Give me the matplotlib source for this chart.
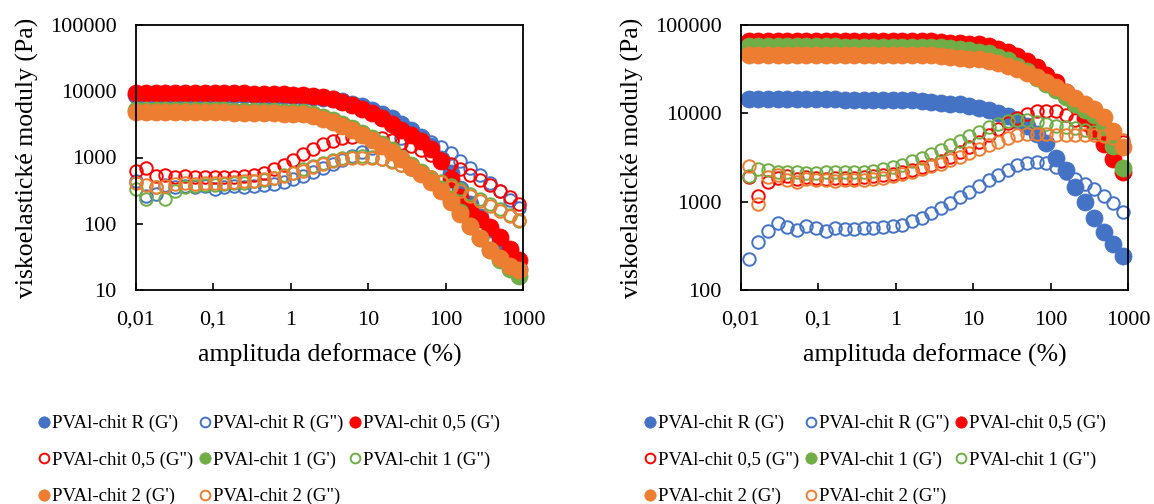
import matplotlib
matplotlib.use("Agg")
import matplotlib.pyplot as plt
from matplotlib.ticker import FixedLocator, FixedFormatter, NullLocator

plt.rcParams['font.family'] = ['Liberation Serif', 'DejaVu Serif']

# strain amplitude (%) of the two sweeps
strain_a = [0.0100, 0.0134, 0.0180, 0.0240, 0.0323, 0.0432, 0.0579, 0.0776, 0.104, 0.139,
            0.186, 0.250, 0.335, 0.448, 0.601, 0.805, 1.08, 1.44, 1.93, 2.59,
            3.47, 4.65, 6.23, 8.34, 11.2, 15.0, 20.1, 26.9, 36.0, 48.2,
            64.6, 86.5, 116, 155, 208, 279, 373, 500, 670, 897]
strain_b = [0.0126, 0.0168, 0.0223, 0.0297, 0.0395, 0.0525, 0.0698, 0.0929, 0.124, 0.164,
            0.219, 0.291, 0.387, 0.515, 0.686, 0.912, 1.21, 1.61, 2.15, 2.86,
            3.80, 5.06, 6.73, 8.95, 11.9, 15.8, 21.1, 28.1, 37.3, 49.7,
            66.1, 87.9, 117, 156, 207, 275, 366, 488, 649, 863]

sample_names = ["PVAl-chit R", "PVAl-chit 0,5", "PVAl-chit 1", "PVAl-chit 2"]
sample_colors = ["#4472C4", "#FF0000", "#70AD47", "#ED7D31"]

# panel A: storage modulus G' (Pa)
a_gp_R = [8700, 8700, 8700, 8700, 8700, 8700, 8700, 8700, 8700, 8700,
          8700, 8700, 8700, 8600, 8600, 8600, 8510, 8320, 8130, 7940,
          7590, 7080, 6460, 5890, 5250, 4570, 3890, 3240, 2630, 2040,
          1480, 955, 575, 331, 200, 126, 83, 55, 35, 21]
a_gp_05 = [9550, 9550, 9550, 9550, 9550, 9440, 9440, 9440, 9330, 9330,
           9330, 9330, 9230, 9230, 9120, 9120, 8910, 8710, 8510, 8130,
           7590, 6920, 6170, 5370, 4680, 3980, 3240, 2570, 2190, 1780,
           1350, 891, 479, 251, 166, 120, 89, 63, 42, 28]
a_gp_1 = [5130, 5130, 5130, 5130, 5130, 5130, 5130, 5130, 5130, 5130,
          5010, 5010, 5010, 5010, 5010, 4900, 4900, 4790, 4470, 4070,
          3630, 3160, 2750, 2340, 1950, 1580, 1290, 1000, 776, 603,
          457, 331, 229, 148, 93, 62, 40, 28, 21, 16]
a_gp_2 = [4790, 4790, 4790, 4790, 4790, 4790, 4790, 4790, 4790, 4790,
          4680, 4680, 4680, 4680, 4680, 4570, 4570, 4470, 4170, 3800,
          3390, 2950, 2570, 2190, 1820, 1480, 1200, 933, 724, 562,
          427, 309, 214, 141, 91, 60, 40, 30, 23, 20]
# panel A: loss modulus G'' (Pa)
a_gpp_R = [447, 263, 282, 380, 355, 372, 355, 372, 339, 363,
           372, 363, 372, 380, 398, 427, 468, 525, 603, 692,
           794, 912, 1050, 1200, 1380, 1580, 1820, 2000, 2090, 2000,
           1740, 1450, 1150, 891, 692, 537, 407, 309, 229, 170]
a_gpp_05 = [617, 692, 525, 550, 513, 525, 501, 513, 513, 501,
            513, 525, 550, 589, 661, 759, 912, 1120, 1350, 1580,
            1780, 1950, 2040, 2090, 2040, 1950, 1820, 1660, 1480, 1290,
            1100, 933, 794, 661, 550, 457, 380, 309, 251, 200]
a_gpp_1 = [331, 240, 355, 240, 316, 355, 372, 380, 380, 398,
           407, 417, 437, 457, 490, 537, 589, 661, 741, 832,
           912, 977, 1020, 1050, 1020, 955, 871, 776, 676, 589,
           513, 447, 380, 331, 282, 240, 200, 166, 135, 110]
a_gpp_2 = [417, 380, 363, 372, 398, 417, 398, 407, 417, 417,
           427, 437, 447, 468, 490, 525, 575, 631, 708, 794,
           871, 933, 977, 1000, 977, 933, 851, 759, 661, 575,
           501, 427, 363, 309, 263, 224, 186, 155, 132, 115]

# panel B: storage modulus G' (Pa)
b_gp_R = [14500, 14500, 14500, 14500, 14500, 14500, 14500, 14500, 14500, 14500,
          14300, 14300, 14300, 14300, 14300, 14300, 14100, 14100, 13800, 13500,
          13200, 12900, 12600, 12000, 11500, 11000, 10200, 9330, 8320, 7240,
          5890, 4570, 3160, 2290, 1450, 1000, 661, 457, 331, 240]
b_gp_05 = [66000, 66000, 66000, 66000, 66000, 66000, 66000, 66000, 66000, 66000,
           65300, 65300, 65300, 65300, 65300, 65300, 65300, 65300, 65300, 65300,
           64600, 63100, 63100, 61700, 60300, 57500, 53700, 50100, 44700, 38900,
           33100, 27500, 22400, 17400, 12600, 8910, 6310, 4470, 3020, 2140]
b_gp_1 = [57500, 57500, 57500, 57500, 57500, 57500, 57500, 57500, 57500, 57500,
          56900, 56900, 56900, 56900, 56900, 56900, 56900, 56900, 56900, 56900,
          56200, 55000, 53700, 52500, 50100, 47900, 43700, 39800, 34700, 30200,
          25100, 21400, 18200, 15500, 12600, 11000, 9550, 7080, 4270, 2400]
b_gp_2 = [45700, 45700, 45700, 45700, 45700, 45700, 45700, 45700, 45700, 45700,
          45200, 45200, 45200, 45200, 45200, 45200, 45200, 45200, 45200, 45200,
          44700, 43700, 42700, 41700, 40700, 38900, 37200, 34700, 31600, 28800,
          25700, 22900, 20000, 17400, 14800, 12900, 11200, 9120, 6310, 4170]
# panel B: loss modulus G'' (Pa)
b_gpp_R = [224, 347, 468, 575, 513, 479, 525, 501, 468, 501,
           490, 490, 501, 501, 513, 525, 550, 603, 661, 741,
           851, 977, 1120, 1290, 1510, 1740, 2000, 2290, 2570, 2750,
           2820, 2750, 2450, 2090, 1820, 1580, 1380, 1170, 955, 759]
b_gpp_05 = [1910, 1150, 1660, 1860, 1950, 1820, 1910, 1860, 1820, 1860,
            1860, 1860, 1910, 1950, 2000, 2040, 2140, 2290, 2450, 2630,
            2880, 3240, 3630, 4170, 4790, 5620, 6610, 7760, 8910, 9770,
            10500, 10700, 10500, 9550, 8510, 7590, 6760, 6030, 5370, 4790]
b_gpp_1 = [1950, 2340, 2290, 2190, 2140, 2140, 2090, 2090, 2140, 2140,
           2140, 2190, 2190, 2240, 2340, 2450, 2630, 2880, 3160, 3470,
           3890, 4370, 4900, 5500, 6170, 6920, 7590, 8130, 8320, 8320,
           7940, 7590, 7240, 6920, 6760, 6460, 6170, 5750, 5010, 4170]
b_gpp_2 = [2510, 933, 1910, 2000, 1780, 1660, 1820, 1740, 1740, 1700,
           1780, 1740, 1780, 1820, 1860, 1950, 2040, 2190, 2340, 2510,
           2690, 2950, 3240, 3550, 3980, 4370, 4790, 5250, 5620, 5890,
           5890, 5890, 5750, 5750, 5750, 5620, 5620, 5500, 5250, 5010]

x_ticks = [0.01, 0.1, 1, 10, 100, 1000]
x_tick_labels = ["0,01", "0,1", "1", "10", "100", "1000"]
a_y_ticks = [10, 100, 1000, 10000, 100000]
b_y_ticks = [100, 1000, 10000, 100000]

fig = plt.figure(figsize=(11.54, 5.04), dpi=100)
W, H = 1154.0, 504.0


def draw_panel(rect, strain, storage, loss, y_ticks, legend_xy):
    ax = fig.add_axes(rect)
    ax.set_xscale('log')
    ax.set_yscale('log')
    handles = []
    for name, col, gp, gpp in zip(sample_names, sample_colors, storage, loss):
        h1, = ax.plot(strain, gp, linestyle='none', marker='o', markersize=12.3,
                      markerfacecolor=col, markeredgecolor=col, markeredgewidth=0.5,
                      label=name + " (G')", clip_on=False)
        h2, = ax.plot(strain, gpp, linestyle='none', marker='o', markersize=9.0,
                      markerfacecolor='none', markeredgecolor=col, markeredgewidth=1.4,
                      label=name + ' (G")', clip_on=False)
        handles += [h1, h2]
    ax.set_xlim(0.01, 1000)
    ax.set_ylim(y_ticks[0], y_ticks[-1])
    ax.xaxis.set_major_locator(FixedLocator(x_ticks))
    ax.xaxis.set_major_formatter(FixedFormatter(x_tick_labels))
    ax.yaxis.set_major_locator(FixedLocator(y_ticks))
    ax.yaxis.set_major_formatter(FixedFormatter([str(v) for v in y_ticks]))
    ax.xaxis.set_minor_locator(NullLocator())
    ax.yaxis.set_minor_locator(NullLocator())
    ax.tick_params(direction='in', length=5, width=1.2, labelsize=16, colors='black')
    ax.tick_params(axis='x', pad=15)
    ax.tick_params(axis='y', pad=14)
    for sp in ax.spines.values():
        sp.set_linewidth(1.3)
        sp.set_color('black')
    ax.set_xlabel("amplituda deformace (%)", fontsize=18.5, labelpad=10)
    ax.set_ylabel("viskoelastické moduly (Pa)", fontsize=18.5, labelpad=8)
    # legend laid out row by row: three entries per row
    order = [0, 3, 6, 1, 4, 7, 2, 5]
    leg = fig.legend([handles[i] for i in order], [handles[i].get_label() for i in order],
                     loc='upper left', bbox_to_anchor=legend_xy, ncol=3, frameon=False,
                     fontsize=13.5, handlelength=0.6, handletextpad=0.15,
                     columnspacing=0.3, labelspacing=1.02, borderpad=0, borderaxespad=0)
    for lh in leg.legend_handles:
        if lh.get_markerfacecolor() == 'none':
            lh.set_markersize(7.0)
        else:
            lh.set_markersize(8.2)
    return ax


draw_panel([136 / W, 1 - 290 / H, 387 / W, 265 / H], strain_a,
           [a_gp_R, a_gp_05, a_gp_1, a_gp_2], [a_gpp_R, a_gpp_05, a_gpp_1, a_gpp_2],
           a_y_ticks, (38 / W, 1 - 415 / H))
draw_panel([741 / W, 1 - 290 / H, 387 / W, 265 / H], strain_b,
           [b_gp_R, b_gp_05, b_gp_1, b_gp_2], [b_gpp_R, b_gpp_05, b_gpp_1, b_gpp_2],
           b_y_ticks, (644 / W, 1 - 415 / H))

fig.savefig("out.png", dpi=100, facecolor='white')
